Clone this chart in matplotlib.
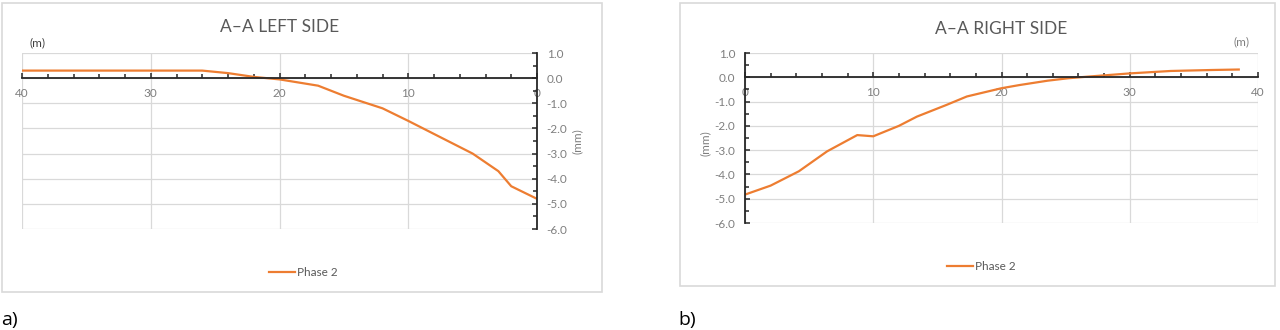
import matplotlib.pyplot as plt
from matplotlib.patches import Rectangle
from matplotlib.ticker import MultipleLocator

plt.rcParams['font.family'] = ['Lato', 'DejaVu Sans']

# settlement profiles, phase 2
left_x = [40, 26, 24, 22, 20, 17, 15, 12, 10, 5, 3, 2, 0]
left_y = [0.3, 0.3, 0.2, 0.05, -0.05, -0.3, -0.7, -1.2, -1.7, -3.0, -3.7, -4.3, -4.8]

right_x = [0, 2, 4.2, 6.4, 8.75, 10, 12, 13.4, 15.7, 17.3, 20, 21.4, 23.6, 25.2,
           26.8, 30, 33.2, 36.4, 38.5]
right_y = [-4.83, -4.46, -3.87, -3.05, -2.38, -2.43, -2.0, -1.62, -1.14, -0.79,
           -0.45, -0.32, -0.14, -0.04, 0.03, 0.16, 0.26, 0.30, 0.32]

x_ticks = [0, 10, 20, 30, 40]
y_ticks = [1, 0, -1, -2, -3, -4, -5, -6]
series_name = 'Phase 2'

ORANGE = '#ED7D31'
GRID = '#d9d9d9'
LABEL = '#7f7f7f'

W, H = 1280, 330
fig = plt.figure(figsize=(W / 100, H / 100), dpi=100)


def px_box(x0, y0, x1, y1):
    # pixel box (top-left origin) -> figure fraction rect
    return [x0 / W, 1 - y1 / H, (x1 - x0) / W, (y1 - y0) / H]


def frame(x0, y0, x1, y1):
    fig.patches.append(Rectangle((x0 / W, 1 - y1 / H), (x1 - x0) / W, (y1 - y0) / H,
                                 transform=fig.transFigure, fill=False,
                                 edgecolor=GRID, lw=1.2))


def style(ax, side):
    ax.set_xlim(0, 40)
    ax.set_ylim(-6, 1)
    ax.set_xticks(x_ticks)
    ax.set_yticks(y_ticks)
    ax.set_yticklabels([f'{v:.1f}' for v in y_ticks])
    ax.xaxis.set_minor_locator(MultipleLocator(2))
    ax.yaxis.set_minor_locator(MultipleLocator(0.5))
    ax.grid(True, which='major', color=GRID, lw=0.9)
    ax.set_axisbelow(True)
    for s in ax.spines.values():
        s.set_visible(False)
    ax.spines['bottom'].set_visible(True)
    ax.spines['bottom'].set_position(('data', 0))
    ax.spines[side].set_visible(True)
    for s in ('bottom', side):
        ax.spines[s].set_color('#262626')
        ax.spines[s].set_linewidth(1.3)
    ax.tick_params(which='both', direction='in', colors='#262626',
                   labelcolor=LABEL, labelsize=8.5)
    ax.tick_params(which='major', length=3.5, width=1.1)
    ax.tick_params(which='minor', length=3, width=1.1)
    ax.tick_params(axis='x', pad=7)
    ax.tick_params(axis='y', pad=7)
    if side == 'right':
        ax.yaxis.tick_right()
    else:
        ax.yaxis.tick_left()


# left side
frame(2, 3, 602, 292)
axl = fig.add_axes(px_box(22, 53, 537, 229))
axl.plot(left_x, left_y, color=ORANGE, lw=1.6, label=series_name)
style(axl, 'right')
axl.invert_xaxis()
fig.text(280 / W, 1 - 27 / H, 'A–A LEFT SIDE', ha='center', va='center',
         fontsize=12.5, color='#595959')
fig.text(37 / W, 1 - 43 / H, '(m)', ha='center', va='center', fontsize=8.5,
         color='#404040')
fig.text(577 / W, 1 - 141 / H, '(mm)', ha='center', va='center', rotation=90,
         fontsize=8.5, color=LABEL)
axl.legend(loc='center', bbox_to_anchor=(303 / W, 1 - 273 / H),
           bbox_transform=fig.transFigure, frameon=False, fontsize=8.5,
           handlelength=2.2, handletextpad=0.15, labelcolor='#595959')
fig.text(9 / W, 1 - 320 / H, 'a)', ha='center', va='center', fontsize=14,
         family=['Open Sans', 'DejaVu Sans'])

# right side
frame(680, 3, 1275, 286)
axr = fig.add_axes(px_box(745, 53, 1258, 223))
axr.plot(right_x, right_y, color=ORANGE, lw=1.6, label=series_name)
style(axr, 'left')
fig.text(1001 / W, 1 - 29 / H, 'A–A RIGHT SIDE', ha='center', va='center',
         fontsize=12.5, color='#595959')
fig.text(1242 / W, 1 - 42 / H, '(m)', ha='center', va='center', fontsize=8.5,
         color=LABEL)
fig.text(705 / W, 1 - 143 / H, '(mm)', ha='center', va='center', rotation=90,
         fontsize=8.5, color=LABEL)
axr.legend(loc='center', bbox_to_anchor=(981 / W, 1 - 267 / H),
           bbox_transform=fig.transFigure, frameon=False, fontsize=8.5,
           handlelength=2.2, handletextpad=0.15, labelcolor='#595959')
fig.text(687 / W, 1 - 320 / H, 'b)', ha='center', va='center', fontsize=14,
         family=['Open Sans', 'DejaVu Sans'])

fig.savefig('out.png', dpi=100)
